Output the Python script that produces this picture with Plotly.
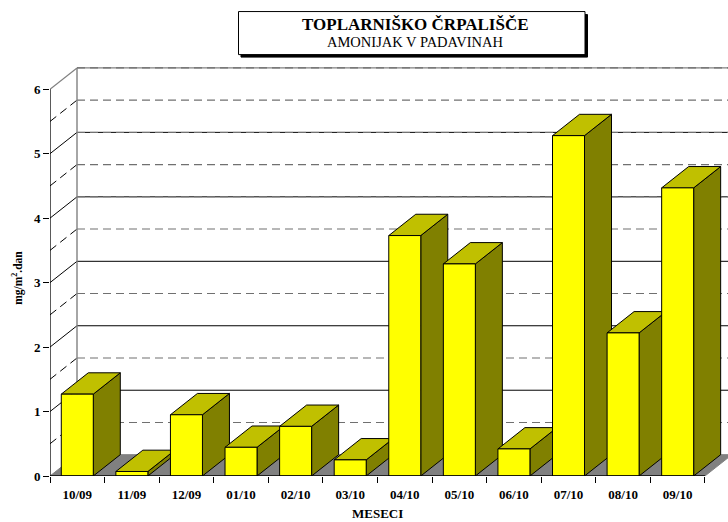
import plotly.graph_objects as go

months = ["10/09", "11/09", "12/09", "01/10", "02/10", "03/10", "04/10", "05/10", "06/10", "07/10", "08/10", "09/10"]
values = [1.27, 0.07, 0.95, 0.445, 0.77, 0.25, 3.73, 3.29, 0.42, 5.28, 2.22, 4.47]
y_ticks = [0, 1, 2, 3, 4, 5, 6]
y_minor = [0.5, 1.5, 2.5, 3.5, 4.5, 5.5]
title_main = "TOPLARNIŠKO ČRPALIŠČE"
title_sub = "AMONIJAK V PADAVINAH"
y_title = "mg/m<sup>2</sup>.dan"
x_title = "MESECI"

W, H = 728, 522
L, R, T, B = 50, 0, 57.4, 46
UX = 54.58            # pixels per category
UY = 64.4             # pixels per unit
DX = 27 / UX          # depth of the 3D box in axis units
DY = 21.3 / UY
BW = 32 / UX
XMIN = -0.5
XEND = len(months) - 0.5
XMAX = XMIN + (W - L - R) / UX
YMAX = (H - T - B) / UY

SERIF = "Liberation Serif"
fig = go.Figure()


def poly(xs, ys, fill, line="black", width=1):
    fig.add_trace(go.Scatter(x=xs + xs[:1], y=ys + ys[:1], mode="lines", fill="toself", fillcolor=fill,
                             line=dict(color=line, width=width), hoverinfo="skip", showlegend=False,
                             cliponaxis=False))


def seg(xs, ys, color="black", width=1, dash="solid", clip=True):
    fig.add_trace(go.Scatter(x=xs, y=ys, mode="lines", line=dict(color=color, width=width, dash=dash),
                             hoverinfo="skip", showlegend=False, cliponaxis=clip))


# floor
poly([XMIN, XMIN + DX, XEND + DX, XEND], [0, DY, DY, 0], "#808080", "#808080")

# grid on back and side walls
DASH = "8px,5px"
for v in y_minor:
    seg([XMIN + DX, XMAX], [v + DY, v + DY], "#707070", 1.1, DASH)
    seg([XMIN, XMIN + DX], [v, v + DY], "black", 1, DASH)
for v in y_ticks[1:-1]:
    seg([XMIN + DX, XMAX], [v + DY, v + DY], "black", 1)
    seg([XMIN, XMIN + DX], [v, v + DY], "black", 1)
for v in y_ticks[4:-1]:
    seg([XMIN + DX, XMAX], [v + DY, v + DY], "#808080", 1, DASH)
top = y_ticks[-1]
seg([XMIN + DX, XMAX], [top + DY, top + DY], "#808080", 1.4)
seg([XMIN + DX, XMAX], [top + DY, top + DY], "#606060", 1, DASH)
seg([XMIN, XMIN + DX], [top, top + DY], "#808080", 1.2)
seg([XMIN + DX, XMIN + DX], [DY, top + DY], "#808080", 1.4)

# bars, left to right so that each one covers the side of the previous one
for i, v in enumerate(values):
    x0, x1 = i - BW / 2, i + BW / 2
    poly([x1, x1 + DX, x1 + DX, x1], [0, DY, v + DY, v], "#808000")
    poly([x0, x0 + DX, x1 + DX, x1], [v, v + DY, v + DY, v], "#C0C000")
    poly([x0, x1, x1, x0], [0, 0, v, v], "#FFFF00")

# front axis lines
seg([XMIN, XMIN], [0, top], "black", 1.3, clip=False)
seg([XMIN, XEND], [0, 0], "black", 1.6, clip=False)

fig.update_layout(
    width=W, height=H, margin=dict(l=L, r=R, t=T, b=B, pad=0, autoexpand=False),
    paper_bgcolor="white", plot_bgcolor="white", showlegend=False,
    font=dict(family=SERIF, color="black"),
    xaxis=dict(range=[XMIN, XMAX], tickvals=list(range(len(months))), ticktext=months, ticks="",
               showgrid=False, zeroline=False, showline=False, ticklabelstandoff=9,
               tickfont=dict(family=SERIF, size=13, weight="bold"), tickangle=0),
    xaxis2=dict(range=[XMIN, XMAX], overlaying="x", anchor="y", side="bottom",
                tickvals=[i - 0.5 for i in range(len(months) + 1)], ticks="outside", ticklen=6,
                tickcolor="black", tickwidth=1, showticklabels=False, showgrid=False, zeroline=False),
    yaxis=dict(range=[0, YMAX], tickvals=y_ticks, ticks="outside", ticklen=6, tickcolor="black", tickwidth=1,
               showgrid=False, zeroline=False, showline=False,
               tickfont=dict(family=SERIF, size=13, weight="bold")),
)
fig.add_trace(go.Scatter(x=[XMIN], y=[0], xaxis="x2", mode="lines", hoverinfo="skip", showlegend=False))


def px(x):
    return (x - L) / (W - L - R)


def py(y):
    return 1 - (y - T) / (H - T - B)


fig.add_shape(type="rect", xref="paper", yref="paper", x0=px(241), x1=px(587.5), y0=py(15), y1=py(57.5),
              fillcolor="black", line=dict(color="black", width=1))
fig.add_shape(type="rect", xref="paper", yref="paper", x0=px(238.5), x1=px(585), y0=py(12), y1=py(55),
              fillcolor="white", line=dict(color="black", width=1))


def note(text, x, y, size, bold=False, angle=0):
    fig.add_annotation(text=text, xref="paper", yref="paper", x=px(x), y=py(y), showarrow=False,
                       xanchor="center", yanchor="middle", textangle=angle,
                       font=dict(family=SERIF, size=size, weight="bold" if bold else "normal"))


note(title_main, 415, 24.5, 17, True)
note(title_sub, 415, 42.5, 14.5)
note(y_title, 18, 278, 11.5, True, -90)
note(x_title, 377, 513, 13, True)

fig.write_html("out.html", config=dict(displayModeBar=False),
               post_script="document.body.style.margin='0';")
